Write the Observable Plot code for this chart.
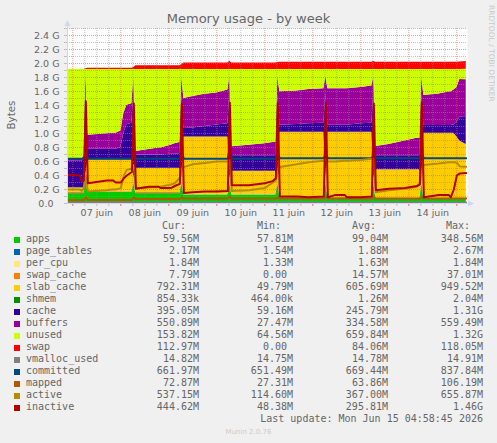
<!DOCTYPE html>
<html>
<head>
<meta charset="utf-8">
<script src="https://cdn.jsdelivr.net/npm/d3@7"></script>
<script src="https://cdn.jsdelivr.net/npm/@observablehq/plot@0.6"></script>
<style>
  html, body { margin: 0; padding: 0; background: #F0F0F0; }
  #page { position: relative; width: 497px; height: 443px; overflow: hidden; background: #F0F0F0; color: #666; font-family: "DejaVu Sans", sans-serif; }
  #chart { position: absolute; left: 0; top: 0; }
  .title { position: absolute; left: 0; top: 11px; width: 497px; text-align: center; font-size: 13px; line-height: 16px; }
  .ylabel { position: absolute; left: -19.5px; top: 109px; width: 60px; height: 12px; line-height: 12px; text-align: center; font-size: 10.3px; transform: rotate(-90deg); }
  .watermark { position: absolute; left: 495.5px; top: 5px; font-size: 7.5px; line-height: 9px; white-space: nowrap; color: #C8C8C8; transform-origin: 0 0; transform: rotate(90deg); }
  .row { position: absolute; left: 0; width: 497px; height: 12px; font-family: "DejaVu Sans Mono", monospace; font-size: 10px; line-height: 12px; white-space: pre; }
  .row span { position: absolute; top: 0; white-space: pre; }
  .row span.sw { width: 6px; height: 6px; left: 14px; top: 4px; }
  .row span.r { text-align: right; width: 120px; }
  .row span.wide { text-align: right; width: 240px; }
  .munin { position: absolute; left: 0; width: 497px; top: 428px; text-align: center; font-size: 7px; line-height: 9px; color: #CCCCCC; }
</style>
</head>
<body>
<div id="page">
  <div class="title">Memory usage - by week</div>
  <div id="chart"></div>
  <div class="ylabel">Bytes</div>
  <div class="watermark">RRDTOOL / TOBI OETIKER</div>
  <div id="legend"></div>
  <div class="munin">Munin 2.0.76</div>
</div>
<script>
// ---- data (values in GiB, hours from 2026-06-07 00:00 UTC) ----
const hours = [-3, 3.5, 4.5, 5.5, 6.5,
  7.5, 17, 20, 21.5, 24, 25.5, 27, 29.5, 30.5,
  31.5, 38, 43, 44, 49, 51, 53.5, 54.5,
  55.5, 60, 66, 72, 77.5, 78.5,
  79.5, 88, 96, 100, 101.5, 102.5,
  103.5, 112, 118, 125.5, 126.5,
  127.5, 131, 136, 137, 144, 149.5, 150.5,
  151.5, 158, 166, 172, 173.5, 174.5,
  175.5, 183, 188, 189, 190.5, 192, 193.5, 196.7];

const apps = [.14, .14, .14, .14, .33,
  .16, .16, .16, .16, .16, .16, .16, .16, .28,
  .14, .14, .14, .14, .14, .14, .14, .28,
  .12, .12, .12, .12, .12, .28,
  .12, .12, .12, .12, .12, .28,
  .08, .08, .08, .08, .28,
  .075, .075, .075, .075, .075, .075, .28,
  .07, .07, .07, .07, .07, .28,
  .06, .06, .06, .06, .06, .06, .06, .058];

const pageTables = [.0016, .0016, .0016, .0016, .0026,
  .0018, .0018, .0018, .0018, .0018, .0019, .0019, .0019, .0026,
  .0019, .0019, .0019, .0019, .0019, .0019, .0019, .0026,
  .0020, .0020, .0020, .0020, .0020, .0026,
  .0020, .0020, .0020, .0020, .0020, .0026,
  .0020, .0020, .0020, .0020, .0026,
  .0020, .0020, .0020, .0020, .0020, .0020, .0026,
  .0020, .0020, .0020, .0020, .0020, .0026,
  .0021, .0021, .0021, .0021, .0021, .0021, .0021, .0021];

const perCpu = [.0013, .0013, .0013, .0013, .0013,
  .0015, .0015, .0015, .0015, .0015, .0015, .0015, .0015, .0015,
  .0016, .0016, .0016, .0016, .0016, .0016, .0016, .0016,
  .0016, .0016, .0016, .0016, .0016, .0016,
  .0016, .0016, .0016, .0016, .0016, .0016,
  .0017, .0017, .0017, .0017, .0017,
  .0017, .0017, .0017, .0017, .0017, .0017, .0017,
  .0017, .0017, .0017, .0017, .0017, .0017,
  .0018, .0018, .0018, .0018, .0018, .0018, .0018, .0018];

const swapCache = [.02, .02, .02, .02, .035,
  .01, .01, .01, .01, .01, .01, .01, .01, .03,
  .012, .012, .012, .012, .012, .012, .012, .03,
  .01, .01, .01, .01, .01, .03,
  .012, .012, .012, .012, .012, .03,
  .008, .008, .008, .008, .03,
  .008, .008, .008, .008, .008, .008, .03,
  .008, .008, .008, .008, .008, .03,
  .008, .008, .008, .008, .008, .008, .008, .0076];

const slabCache = [.06, .06, .06, .06, .05,
  .45, .45, .45, .45, .45, .45, .45, .45, .05,
  .345, .345, .345, .345, .345, .345, .345, .05,
  .815, .815, .815, .815, .815, .05,
  .325, .325, .325, .325, .325, .05,
  .925, .925, .925, .925, .05,
  .93, .93, .93, .93, .93, .93, .05,
  .40, .40, .40, .40, .40, .05,
  .93, .93, .93, .93, .93, .88, .82, .774];

const shmem = [.0019, .0019, .0019, .0019, .0019,
  .0015, .0015, .0015, .0015, .0015, .0015, .0015, .0015, .0015,
  .0013, .0013, .0013, .0013, .0013, .0013, .0013, .0013,
  .0012, .0012, .0012, .0012, .0012, .0012,
  .0012, .0012, .0012, .0012, .0012, .0012,
  .0011, .0011, .0011, .0011, .0011,
  .0011, .0011, .0011, .0011, .0011, .0011, .0011,
  .0010, .0010, .0010, .0010, .0010, .0010,
  .0008, .0008, .0008, .0008, .0008, .0008, .0008, .0008];

const cache = [.38, .38, .38, .40, 1.2,
  .15, .15, .15, .15, .17, .38, .50, .52, 1.2,
  .19, .19, .19, .19, .20, .20, .21, 1.2,
  .12, .13, .15, .17, .19, 1.2,
  .22, .22, .22, .22, .22, 1.2,
  .10, .11, .12, .13, 1.2,
  .10, .10, .10, .10, .12, .13, 1.2,
  .20, .20, .20, .20, .20, 1.2,
  .11, .11, .11, .11, .12, .20, .34, .386];

const buffers = [.03, .03, .03, .05, .25,
  .20, .22, .23, .23, .24, .28, .28, .28, .25,
  .05, .08, .10, .10, .13, .15, .16, .25,
  .43, .45, .46, .46, .48, .25,
  .13, .15, .17, .19, .19, .25,
  .48, .48, .49, .49, .25,
  .52, .52, .52, .52, .52, .53, .25,
  .13, .16, .21, .25, .25, .25,
  .43, .45, .48, .48, .50, .50, .54, .538];

const unused = [1.278, 1.278, 1.278, 1.238, .043,
  .938, .918, .908, .908, .878, .628, .508, .488, .098,
  1.171, 1.141, 1.121, 1.121, 1.081, 1.061, 1.041, .098,
  .413, .383, .353, .333, .293, .098,
  1.101, 1.081, 1.061, 1.041, 1.041, .098,
  .315, .305, .285, .275, .098,
  .275, .275, .275, .275, .255, .235, .098,
  1.10, 1.07, 1.02, .98, .98, .098,
  .37, .35, .32, .32, .29, .26, .14, .15];

const swap = [0, 0, 0, 0, .01,
  .02, .02, .02, .02, .02, .02, .02, .02, .03,
  .055, .055, .055, .055, .055, .055, .055, .07,
  .095, .095, .095, .095, .095, .12,
  .095, .095, .095, .095, .095, .10,
  .105, .105, .105, .105, .105,
  .105, .105, .105, .105, .105, .105, .115,
  .105, .105, .105, .105, .105, .105,
  .105, .105, .105, .105, .105, .105, .11, .11];

const vmHours = [-3, 196.7];
const vmallocUsed = [.0144, .0145];

const committed = [.64, .64, .64, .64, .72,
  .64, .64, .64, .64, .64, .64, .64, .64, .72,
  .64, .64, .64, .64, .64, .64, .64, .72,
  .64, .64, .64, .64, .64, .80,
  .64, .64, .64, .64, .64, .72,
  .645, .645, .645, .645, .72,
  .645, .645, .645, .645, .645, .645, .72,
  .645, .645, .645, .645, .645, .72,
  .645, .645, .645, .645, .645, .645, .645, .646];

const mapped = [.045, .045, .045, .045, .09,
  .05, .05, .05, .05, .05, .05, .05, .05, .09,
  .065, .065, .065, .065, .065, .065, .065, .09,
  .07, .07, .07, .07, .07, .10,
  .07, .07, .07, .07, .07, .09,
  .07, .07, .07, .07, .09,
  .07, .07, .07, .07, .07, .07, .09,
  .07, .07, .07, .07, .07, .09,
  .07, .07, .07, .07, .07, .07, .07, .071];

const active = [.20, .20, .18, .22, .40,
  .17, .19, .20, .20, .22, .40, .48, .50, .55,
  .22, .23, .24, .24, .27, .29, .37, .50,
  .52, .56, .58, .60, .60, .62,
  .18, .19, .22, .30, .33, .45,
  .52, .56, .59, .61, .63,
  .60, .60, .61, .61, .62, .64, .64,
  .16, .19, .21, .24, .29, .45,
  .55, .57, .59, .59, .59, .58, .53, .525];

const inactive = [.41, .40, .32, .33, 1.46,
  .29, .33, .33, .30, .30, .36, .40, .45, 1.43,
  .21, .24, .24, .22, .22, .25, .28, 1.42,
  .15, .16, .17, .17, .18, 1.44,
  .26, .26, .29, .32, .36, 1.43,
  .10, .10, .09, .10, 1.44,
  .09, .12, .12, .09, .09, .10, 1.43,
  .19, .21, .22, .25, .27, 1.44,
  .09, .12, .12, .09, .20, .40, .43, .434];

const stackNames = ["apps", "page_tables", "per_cpu", "swap_cache", "slab_cache", "shmem", "cache", "buffers", "unused", "swap"];
const stackColors = ["#00CC00", "#0066B3", "#FFE680", "#FF8000", "#FFCC00", "#008F00", "#330099", "#990099", "#CCFF00", "#FF0000"];
const lineNames = ["vmalloc_used", "committed", "mapped", "active", "inactive"];
const lineColors = ["#808080", "#00487D", "#B35A00", "#B38F00", "#B30000"];

const legendCur = ["59.56M", "2.17M", "1.84M", "7.79M", "792.31M", "854.33k", "395.05M", "550.89M", "153.82M", "112.97M", "14.82M", "661.97M", "72.87M", "537.15M", "444.62M"];
const legendMin = ["57.81M", "1.54M", "1.33M", "0.00 ", "49.79M", "464.00k", "59.16M", "27.47M", "64.56M", "0.00 ", "14.75M", "651.49M", "27.31M", "114.60M", "48.38M"];
const legendAvg = ["99.04M", "1.88M", "1.63M", "14.57M", "605.69M", "1.26M", "245.79M", "334.58M", "659.84M", "84.06M", "14.78M", "669.44M", "63.86M", "367.00M", "295.81M"];
const legendMax = ["348.56M", "2.67M", "1.84M", "37.01M", "949.52M", "2.04M", "1.31G", "559.49M", "1.32G", "118.05M", "14.91M", "837.84M", "106.19M", "655.87M", "1.46G"];
const lastUpdate = "Last update: Mon Jun 15 04:58:45 2026";

// ---- build tables ----
const t0 = Date.UTC(2026, 5, 7);
const toDate = h => new Date(t0 + h * 3600e3);
const times = hours.map(toDate);
const stackValues = [apps, pageTables, perCpu, swapCache, slabCache, shmem, cache, buffers, unused, swap];
const stackTable = stackNames.flatMap((s, k) => stackValues[k].map((v, i) => ({t: times[i], s, v})));
const lineSources = [[vmHours, vmallocUsed], [hours, committed], [hours, mapped], [hours, active], [hours, inactive]];
const lineTables = lineSources.map(([hs, vs]) => vs.map((v, i) => ({t: toDate(hs[i]), v})));

const xDomain = [toDate(-2.667), toDate(197.333)];
const days = d3.utcDay.range(toDate(0), toDate(193));
const noons = d3.utcDay.range(toDate(0), toDate(192)).map(d => new Date(+d + 12 * 3600e3));
const sixHours = d3.utcHour.every(6).range(xDomain[0], xDomain[1]).filter(d => d.getUTCHours() !== 0);
const majorY = d3.range(0, 25, 2).map(d => d / 10);
const minorY = d3.range(1, 26, 2).map(d => d / 10);
const allY = d3.range(0, 26).map(d => d / 10);

const chart = Plot.plot({
  width: 497, height: 225,
  marginLeft: 67, marginRight: 30, marginTop: 28, marginBottom: 22,
  style: {background: "transparent", fontFamily: "'DejaVu Sans'", fontSize: "9.5px", color: "#666", overflow: "visible"},
  x: {type: "utc", domain: xDomain, label: null},
  y: {domain: [0, 2.5], label: null},
  color: {type: "ordinal", domain: stackNames, range: stackColors},
  marks: [
    Plot.frame({fill: "#FFFFFF", stroke: null}),
    Plot.areaY(stackTable, {x: "t", y: "v", z: "s", fill: "s", order: stackNames, curve: "linear", clip: true}),
    Plot.gridY({ticks: minorY, stroke: "#909090", strokeOpacity: 0.55, strokeDasharray: "1,1"}),
    Plot.gridY({ticks: majorY.slice(1), stroke: "#E06060", strokeOpacity: 0.65, strokeDasharray: "1,1"}),
    Plot.gridX({ticks: sixHours, stroke: "#909090", strokeOpacity: 0.55, strokeDasharray: "1,1"}),
    Plot.gridX({ticks: days, stroke: "#E06060", strokeOpacity: 0.65, strokeDasharray: "1,1"}),
    ...lineTables.map((tbl, k) => Plot.lineY(tbl, {x: "t", y: "v", stroke: lineColors[k], strokeWidth: 2, curve: "linear", clip: true})),
    Plot.axisY({ticks: majorY, tickSize: 0, tickPadding: 8, label: null,
      tickFormat: d => d === 0 ? "0.0\u00a0\u00a0" : d.toFixed(1) + " G"}),
    Plot.axisY({ticks: allY, tickSize: 3, text: null, stroke: "#C0C0C0", label: null}),
    Plot.axisX({ticks: noons, tickSize: 0, tickPadding: 6, label: null,
      tickFormat: d => d3.utcFormat("%d")(d) + " juin"}),
    Plot.axisX({ticks: sixHours, tickSize: 3, text: null, stroke: "#C0C0C0", label: null}),
    Plot.axisX({ticks: days, tickSize: 3, text: null, stroke: "#E07070", label: null})
  ]
});
document.getElementById("chart").appendChild(chart);

// axis lines and arrows (decoration)
const svg = d3.select(chart);
const deco = svg.append("g");
deco.append("line").attr("x1", 67).attr("x2", 471).attr("y1", 203.5).attr("y2", 203.5).attr("stroke", "#CFD6F8");
deco.append("line").attr("x1", 67.5).attr("x2", 67.5).attr("y1", 203).attr("y2", 24).attr("stroke", "#CFD6F8");
deco.append("path").attr("d", "M468,200.5 L474,203.5 L468,206.5 Z").attr("fill", "#CFD6F8");
deco.append("path").attr("d", "M64.5,26 L67.5,20 L70.5,26 Z").attr("fill", "#CFD6F8");

// legend
const legendNames = stackNames.concat(lineNames);
const legendColors = stackColors.concat(lineColors);
const legend = document.getElementById("legend");
function addRow(top, cells) {
  const row = document.createElement("div");
  row.className = "row";
  row.style.top = top + "px";
  for (const c of cells) {
    const s = document.createElement("span");
    if (c.cls) s.className = c.cls;
    if (c.left != null) s.style.left = c.left + "px";
    if (c.bg) s.style.background = c.bg;
    if (c.text != null) s.textContent = c.text;
    row.appendChild(s);
  }
  legend.appendChild(row);
}
addRow(220, [
  {cls: "r", left: 66, text: "Cur:"},
  {cls: "r", left: 161, text: "Min:"},
  {cls: "r", left: 256, text: "Avg:"},
  {cls: "r", left: 350, text: "Max:"}
]);
legendNames.forEach((name, i) => {
  addRow(232.8 + 12 * i, [
    {cls: "sw", bg: legendColors[i]},
    {left: 26, text: name},
    {cls: "r", left: 79, text: legendCur[i]},
    {cls: "r", left: 173, text: legendMin[i]},
    {cls: "r", left: 268, text: legendAvg[i]},
    {cls: "r", left: 363, text: legendMax[i]}
  ]);
});
addRow(232.8 + 12 * 15, [{cls: "wide", left: 243, text: lastUpdate}]);
</script>
</body>
</html>
